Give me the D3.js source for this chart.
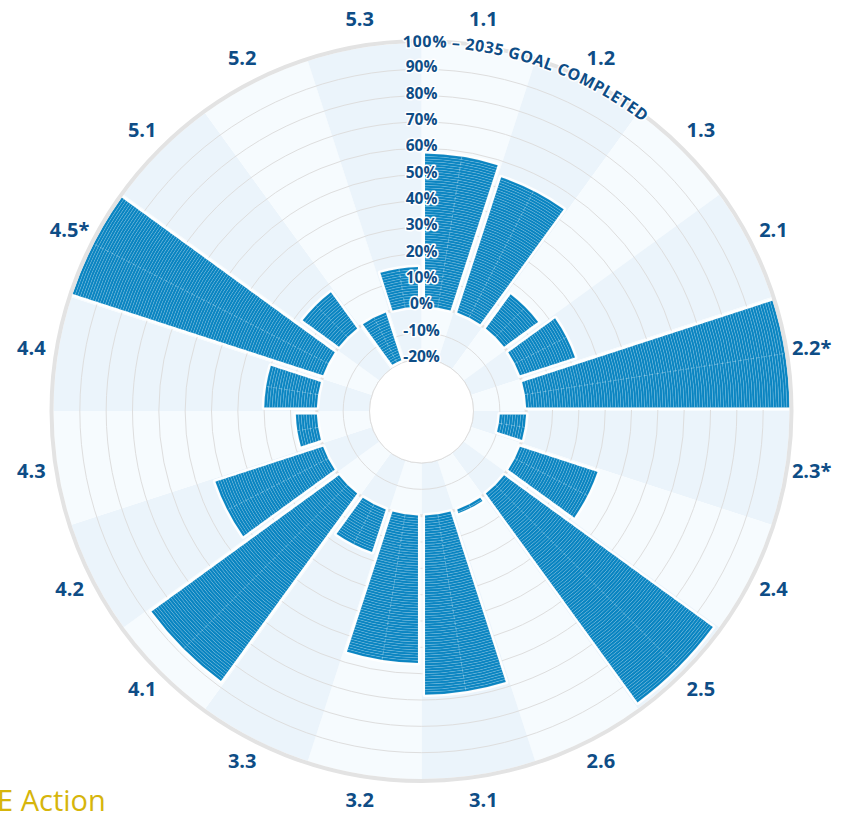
<!DOCTYPE html>
<html>
<head>
<meta charset="utf-8">
<script src="https://cdn.jsdelivr.net/npm/d3@7"></script>
<style>
  body { margin: 0; background: #fff; }
  svg { display: block; }
</style>
</head>
<body>
<div id="chart"></div>
<script>
// categories clockwise from 12 o'clock, progress in % of the 2035 goal
const categories = ['1.1', '1.2', '1.3', '2.1', '2.2*', '2.3*', '2.4', '2.5', '2.6', '3.1',
                    '3.2', '3.3', '4.1', '4.2', '4.3', '4.4', '4.5*', '5.1', '5.2', '5.3'];
const progress = [58, 54, 16, 22, 100, -10, 31, 98, 1.5, 68,
                  56, 17, 88, 43, 8, 20, 100, 17, -19, 15];
const tickValues = [-20, -10, 0, 10, 20, 30, 40, 50, 60, 70, 80, 90];
const tickLabels = ['-20%', '-10%', '0%', '10%', '20%', '30%', '40%', '50%', '60%', '70%', '80%', '90%'];
const goalLabel = '100% – 2035 GOAL COMPLETED';
const footerText = 'E Action';

const W = 855, H = 814, cx = 421.5, cy = 411;
const navy = '#0e4d86', barBlue = '#0984c1';

const svg = d3.select('#chart').append('svg').attr('width', W).attr('height', H);
const g = svg.append('g').attr('transform', `translate(${cx},${cy})`);

const ang = d3.scaleBand().domain(categories).range([0, 2 * Math.PI]);
const rad = d3.scaleLinear().domain([-20, 100]).range([52, 368]);
const mid = c => ang(c) + ang.bandwidth() / 2;

// background wedges, alternating shades
const bgArc = d3.arc()
  .innerRadius(rad(-20)).outerRadius(rad(100))
  .startAngle(c => ang(c)).endAngle(c => ang(c) + ang.bandwidth());

g.append('g').selectAll('path').data(categories).enter().append('path')
  .attr('d', bgArc)
  .attr('fill', (c, i) => i % 2 ? '#ebf4fb' : '#f6fbfe');

// grid rings
g.append('g').selectAll('circle').data(tickValues.filter(v => v !== 0)).enter().append('circle')
  .attr('r', d => rad(d)).attr('fill', 'none')
  .attr('stroke', '#dedede').attr('stroke-width', 1);

g.append('circle').attr('r', rad(-20)).attr('fill', '#fff')
  .attr('stroke', '#dedede').attr('stroke-width', 1);
g.append('circle').attr('r', rad(0)).attr('fill', 'none')
  .attr('stroke', '#e2e2e2').attr('stroke-width', 3);

// bars: one slice for every 1%
const barData = categories.map((c, i) => {
  const v = progress[i];
  return {c, lo: Math.min(0, v), hi: Math.max(0, v)};
});
const segs = [];
barData.forEach(d => {
  for (let s = d.lo; s < d.hi; s += 1) segs.push({c: d.c, a: s, b: Math.min(s + 1, d.hi)});
});

const barArc = d3.arc()
  .startAngle(d => ang(d.c)).endAngle(d => ang(d.c) + ang.bandwidth())
  .padAngle(0.07).padRadius(100);

const bars = g.append('g');
bars.selectAll('path.halo').data(barData).enter().append('path')
  .attr('class', 'halo')
  .attr('d', d => barArc.innerRadius(rad(d.lo)).outerRadius(rad(d.hi))(d))
  .attr('fill', '#fff').attr('stroke', 'rgba(255,255,255,0.9)').attr('stroke-width', 5)
  .attr('stroke-linejoin', 'round');

bars.selectAll('path.seg').data(segs).enter().append('path')
  .attr('class', 'seg')
  .attr('d', d => barArc.innerRadius(rad(d.a)).outerRadius(rad(d.b))(d))
  .attr('fill', barBlue)
  .attr('stroke', 'rgba(255,255,255,0.2)').attr('stroke-width', 0.6);

bars.selectAll('line').data(barData).enter().append('line')
  .attr('x1', d => rad(d.lo) * Math.sin(mid(d.c))).attr('y1', d => -rad(d.lo) * Math.cos(mid(d.c)))
  .attr('x2', d => rad(d.hi) * Math.sin(mid(d.c))).attr('y2', d => -rad(d.hi) * Math.cos(mid(d.c)))
  .attr('stroke', 'rgba(255,255,255,0.3)').attr('stroke-width', 1)
  .attr('stroke-dasharray', '4,2');

// outer ring = goal
g.append('circle').attr('r', rad(100) + 2).attr('fill', 'none')
  .attr('stroke', '#e3e3e3').attr('stroke-width', 4);

// tick labels with white halo
g.append('g').selectAll('text').data(tickValues).enter().append('text')
  .attr('x', 0).attr('y', d => -(rad(d) + 3))
  .attr('text-anchor', 'middle').attr('dominant-baseline', 'central')
  .attr('font-family', '"Open Sans", sans-serif').attr('font-weight', 700).attr('font-size', 15.5)
  .attr('fill', navy)
  .attr('stroke', '#fff').attr('stroke-width', 3).attr('stroke-linejoin', 'round')
  .attr('paint-order', 'stroke')
  .text((d, i) => tickLabels[i]);

// goal label follows the outer ring
const R = 364, a0 = -10 * Math.PI / 180, a1 = 100 * Math.PI / 180;
svg.append('defs').append('path').attr('id', 'goalArc')
  .attr('d', `M${cx + R * Math.sin(a0)},${cy - R * Math.cos(a0)} A${R},${R} 0 0 1 ${cx + R * Math.sin(a1)},${cy - R * Math.cos(a1)}`);

svg.append('text')
  .attr('font-family', '"Open Sans", sans-serif').attr('font-weight', 700).attr('font-size', 16)
  .attr('letter-spacing', 0.5)
  .attr('fill', navy)
  .attr('stroke', '#fff').attr('stroke-width', 3).attr('stroke-linejoin', 'round')
  .attr('paint-order', 'stroke')
  .append('textPath').attr('href', '#goalArc')
  .attr('startOffset', R * (10 - 2.9) * Math.PI / 180)
  .text(goalLabel);

// category labels
g.append('g').selectAll('text').data(categories).enter().append('text')
  .attr('x', c => 395 * Math.sin(mid(c))).attr('y', c => -395 * Math.cos(mid(c)) - 2)
  .attr('text-anchor', 'middle').attr('dominant-baseline', 'central')
  .attr('font-family', '"Open Sans", sans-serif').attr('font-weight', 700).attr('font-size', 20)
  .attr('fill', navy)
  .text(c => c);

svg.append('text')
  .attr('x', -3).attr('y', 811)
  .attr('font-family', '"Open Sans", sans-serif').attr('font-size', 29)
  .attr('fill', '#d6b50b')
  .text(footerText);
</script>
</body>
</html>
